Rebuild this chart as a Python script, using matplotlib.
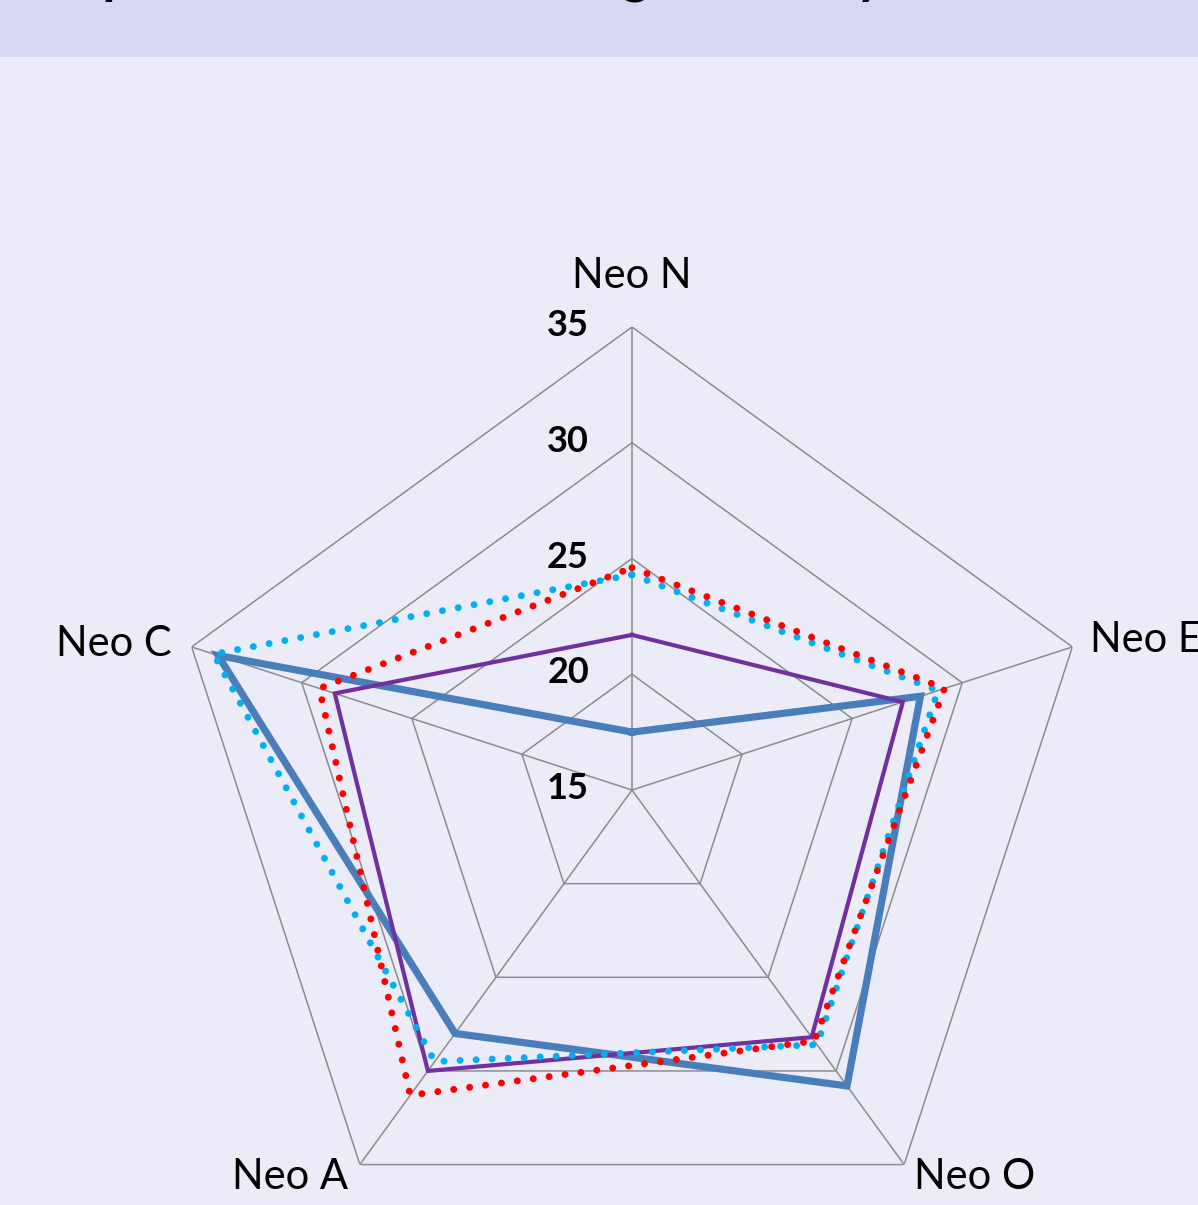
import numpy as np
import matplotlib
matplotlib.use("Agg")
import matplotlib.pyplot as plt
from matplotlib.patches import Rectangle

# Neo domain ratings per group
categories = ["Neo N", "Neo E", "Neo O", "Neo A", "Neo C"]
blue_vals = [17.5, 28.1, 30.8, 28.0, 33.8]
purple_vals = [21.7, 27.3, 28.2, 30.0, 28.5]
cyan_vals = [24.3, 28.9, 28.6, 29.5, 34.0]
red_vals = [24.6, 29.2, 28.4, 31.3, 29.2]
levels = [15, 20, 25, 30, 35]
title = "Comparison of Mean Ratings of Study Cohorts"

bg = "#ECEBF8"
band = "#D8D8F3"
grid_col = "#8C8C8C"
font = "Lato"

fig = plt.figure(figsize=(11.98, 12.05), dpi=100, facecolor=bg)

# title band, text mostly cut off above the top edge
fig.patches.append(Rectangle((0, 1 - 57 / 1205), 1, 57 / 1205, transform=fig.transFigure,
                             facecolor=band, edgecolor="none", zorder=0))
fig.text(-7 / 1198, 1 + 7 / 1205, title, fontsize=38, fontweight="bold", family=font,
         ha="left", va="baseline", color="black")

ax = fig.add_axes([(632 - 463) / 1198, (415 - 463) / 1205, 926 / 1198, 926 / 1205],
                  projection="polar")
ax.set_facecolor("none")
ax.set_theta_offset(np.pi / 2)
ax.set_theta_direction(-1)
ax.set_ylim(15, 35)
ax.grid(False)
ax.spines["polar"].set_visible(False)
ax.set_xticks([])
ax.set_yticks([])

theta = np.linspace(0, 2 * np.pi, len(categories), endpoint=False)
closed = np.append(theta, theta[0])

def close(vals):
    return vals + vals[:1]

# polygon grid and spokes
for lv in levels:
    ax.plot(closed, [lv] * len(closed), color=grid_col, lw=1.1, zorder=1)
for t in theta:
    ax.plot([t, t], [15, 35], color=grid_col, lw=1.1, zorder=1)

ax.plot(closed, close(blue_vals), color="#4A7EBB", lw=5.2, solid_joinstyle="miter", zorder=3)
ax.plot(closed, close(purple_vals), color="#7030A0", lw=3.0, solid_joinstyle="miter", zorder=4)
ax.plot(closed, close(cyan_vals), color="#00B0F0", lw=5.0, linestyle=(0, (0.01, 2.3)),
        dash_capstyle="round", zorder=5)
ax.plot(closed, close(red_vals), color="#FF0000", lw=5.0, linestyle=(0, (0.01, 2.3)),
        dash_capstyle="round", zorder=6)

# radial tick labels along Neo N axis
for lv in levels:
    ax.annotate(str(lv), xy=(0, lv), xytext=(-31, 1), textcoords="offset points",
                ha="right", va="center", fontsize=26, fontweight="bold", family=font,
                annotation_clip=False)

# category labels
offsets = [(0, 37, "center"), (13, 5, "left"), (51, -9, "center"),
           (-50, -9, "center"), (-14, 2, "right")]
for t, lab, (dx, dy, ha) in zip(theta, categories, offsets):
    ax.annotate(lab, xy=(t, 35), xytext=(dx, dy), textcoords="offset points",
                ha=ha, va="center", fontsize=30, family=font, annotation_clip=False)

fig.savefig("out.png", dpi=100, facecolor=bg)
